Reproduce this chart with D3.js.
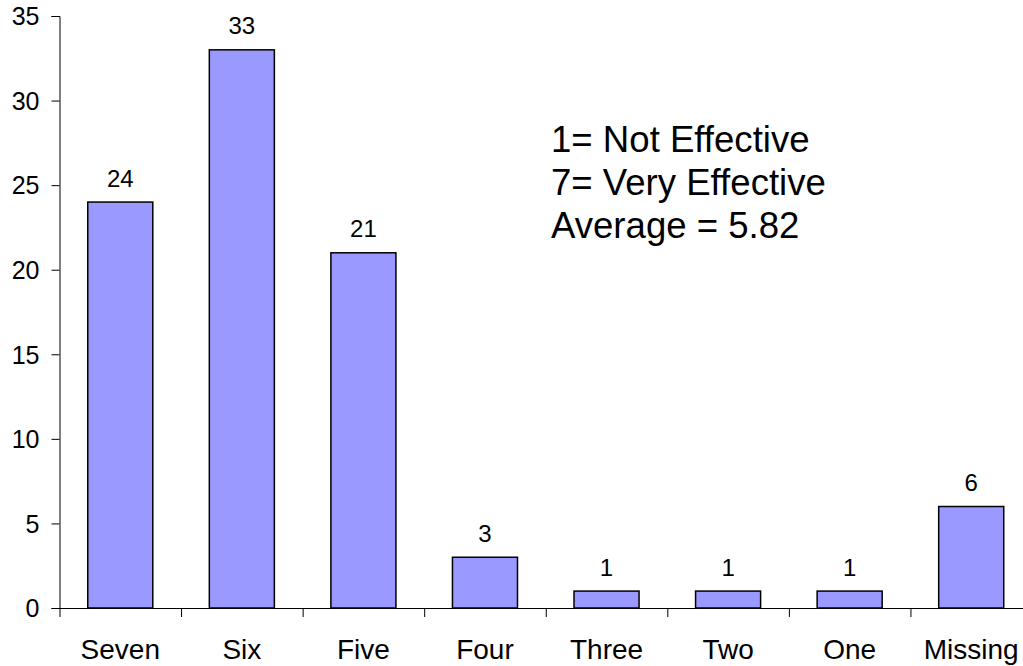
<!DOCTYPE html>
<html>
<head>
<meta charset="utf-8">
<script src="https://cdn.jsdelivr.net/npm/d3@7"></script>
<style>
  html, body { margin: 0; padding: 0; background: #fff; }
  svg { display: block; }
  text { font-family: "Liberation Sans", Arial, sans-serif; fill: #000; }
</style>
</head>
<body>
<svg id="chart" width="1023" height="666"></svg>
<script>
const categories = ["Seven", "Six", "Five", "Four", "Three", "Two", "One", "Missing"];
const counts = [24, 33, 21, 3, 1, 1, 1, 6];
const yTicks = [0, 5, 10, 15, 20, 25, 30, 35];
const noteLines = ["1= Not Effective", "7= Very Effective", "Average = 5.82"];

(function () {
const svg = d3.select("#chart");
const mLeft = 59.5, mRight = 1032, mTop = 16, mBottom = 608;

const y = d3.scaleLinear().domain([0, 35]).range([mBottom, mTop]);
const x = d3.scaleBand().domain(categories).range([mLeft, mRight])
  .paddingInner(0.465).paddingOuter(0.2325);
const xb = d3.scaleLinear().domain([0, categories.length]).range([mLeft, mRight]);

// Y axis
const yAxis = svg.append("g").attr("transform", `translate(${mLeft},0)`)
  .call(d3.axisLeft(y).tickValues(yTicks).tickSize(8).tickPadding(12));
yAxis.selectAll("text").style("font-size", "25px").attr("dy", "0.35em");
yAxis.selectAll("path, line").attr("stroke", "#000");

// X axis (boundary ticks)
const xAxis = svg.append("g").attr("transform", `translate(0,${mBottom})`)
  .call(d3.axisBottom(xb).tickValues(d3.range(0, categories.length + 1)).tickSize(9).tickFormat(""));
xAxis.select(".domain").attr("d", `M${mLeft},0.5H${mRight}`).attr("stroke", "#000");
xAxis.selectAll("line").attr("stroke", "#000");

// Bars
svg.append("g").selectAll("rect").data(categories).join("rect")
  .attr("x", d => x(d))
  .attr("y", (d, i) => y(counts[i]))
  .attr("width", x.bandwidth())
  .attr("height", (d, i) => y(0) - y(counts[i]))
  .attr("fill", "#9999FF")
  .attr("stroke", "#000")
  .attr("stroke-width", 1.5);

// Value labels
svg.append("g").selectAll("text").data(categories).join("text")
  .attr("x", d => x(d) + x.bandwidth() / 2)
  .attr("y", (d, i) => y(counts[i]) - 15.5)
  .attr("text-anchor", "middle")
  .style("font-size", "24px")
  .text((d, i) => counts[i]);

// Category labels
svg.append("g").selectAll("text").data(categories).join("text")
  .attr("x", d => x(d) + x.bandwidth() / 2)
  .attr("y", 659)
  .attr("text-anchor", "middle")
  .style("font-size", "28px")
  .text(d => d);

// Annotation
svg.append("g").selectAll("text").data(noteLines).join("text")
  .attr("x", 551)
  .attr("y", (d, i) => 152 + i * 43.2)
  .style("font-size", "36.6px")
  .text(d => d);
})();
</script>
</body>
</html>
